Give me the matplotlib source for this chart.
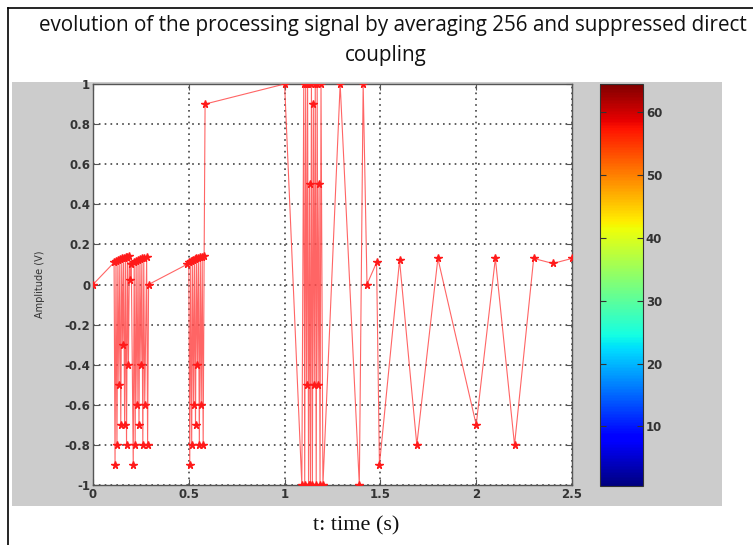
import matplotlib
matplotlib.use("Agg")
import matplotlib.pyplot as plt
from matplotlib.patches import Rectangle
from matplotlib.lines import Line2D
from matplotlib.cm import ScalarMappable
from matplotlib.colors import Normalize
import numpy as np

# signal samples
t = [0.0, 0.11, 0.115, 0.12, 0.125, 0.13, 0.135, 0.14, 0.145, 0.15, 0.155,
     0.16, 0.165, 0.17, 0.175, 0.18, 0.185, 0.19, 0.195, 0.2, 0.21, 0.215,
     0.22, 0.225, 0.23, 0.235, 0.24, 0.245, 0.25, 0.255, 0.26, 0.265, 0.27,
     0.28, 0.285, 0.29,
     0.49, 0.5, 0.505, 0.51, 0.515, 0.52, 0.525, 0.53, 0.535, 0.54, 0.545,
     0.55, 0.555, 0.56, 0.565, 0.57, 0.575, 0.58, 0.585,
     1.0, 1.09, 1.10, 1.105, 1.11, 1.115, 1.12, 1.125, 1.13, 1.135, 1.14,
     1.145, 1.15, 1.155, 1.16, 1.165, 1.17, 1.175, 1.18, 1.185, 1.19, 1.2,
     1.29, 1.39, 1.41, 1.43, 1.48, 1.495, 1.6, 1.69, 1.8, 2.0, 2.1, 2.2,
     2.3, 2.4, 2.5]
amp = [0.0, 0.11, -0.9, 0.115, -0.8, 0.12, -0.5, 0.125, -0.7, 0.13, -0.3,
       0.13, -0.7, 0.135, -0.8, 0.135, -0.4, 0.14, 0.02, 0.1, -0.9, 0.11,
       -0.8, 0.115, -0.6, 0.12, -0.7, 0.125, -0.4, 0.13, -0.8, 0.13, -0.6,
       0.135, -0.8, 0.0,
       0.1, 0.11, -0.9, 0.115, -0.8, 0.12, -0.6, 0.125, -0.7, 0.13, -0.4,
       0.13, -0.8, 0.135, -0.6, 0.135, -0.8, 0.14, 0.9,
       1.0, -1.0, 1.0, -1.0, 1.0, -0.5, 1.0, -1.0, 0.5, -1.0, 1.0,
       -1.0, 0.9, -0.5, 1.0, -1.0, 1.0, -0.5, 0.5, -1.0, 1.0, -1.0,
       1.0, -1.0, 1.0, 0.0, 0.11, -0.9, 0.12, -0.8, 0.13, -0.7, 0.13, -0.8,
       0.13, 0.105, 0.13]

xticks = [0, 0.5, 1, 1.5, 2, 2.5]
xticklabels = ["0", "0.5", "1", "1.5", "2", "2.5"]
yticks = [-1, -0.8, -0.6, -0.4, -0.2, 0, 0.2, 0.4, 0.6, 0.8, 1]
yticklabels = ["-1", "-0.8", "-0.6", "-0.4", "-0.2", "0", "0.2", "0.4", "0.6", "0.8", "1"]
cb_ticks = [10, 20, 30, 40, 50, 60]

W, H = 753, 545
fig = plt.figure(figsize=(W / 100, H / 100), dpi=100)
fig.patch.set_facecolor("white")

def fx(px):
    return px / W

def fy(py):
    return 1 - py / H

# grey matlab figure area
fig.patches.append(Rectangle((fx(12), fy(506)), fx(722 - 12), (506 - 82) / H,
                             transform=fig.transFigure, facecolor="#cccccc",
                             edgecolor="none", zorder=-10))
# black frame lines of the screenshot
fig.lines.append(Line2D([fx(8), fx(8)], [fy(8), 0], transform=fig.transFigure,
                        color="black", lw=1.2, zorder=-5))
fig.lines.append(Line2D([fx(8), 1], [fy(8), fy(8)], transform=fig.transFigure,
                        color="black", lw=1.2, zorder=-5))

ax = fig.add_axes([fx(93), fy(485), fx(572 - 93), (485 - 84) / H])
ax.set_facecolor("white")
ax.plot(t, amp, color="#ff4a4a", lw=0.8, alpha=0.85, zorder=3)
ax.plot(t, amp, ls="none", marker="*", ms=5.5, color="#ff1a1a", zorder=4)
ax.set_xlim(0, 2.5)
ax.set_ylim(-1, 1)
ax.set_xticks(xticks)
ax.set_xticklabels(xticklabels)
ax.set_yticks(yticks)
ax.set_yticklabels(yticklabels)
ax.grid(True, ls=(0, (1, 2.5)), color="#444444", lw=1.2)
ax.tick_params(direction="in", length=4, top=True, right=True, labelsize=8.5,
               labelcolor="#333333", color="#555555", pad=2)
for lab in ax.get_xticklabels() + ax.get_yticklabels():
    lab.set_fontweight("bold")
for sp in ax.spines.values():
    sp.set_color("#555555")
    sp.set_linewidth(1)
ax.set_ylabel("Amplitude (V)", fontsize=7, color="#333333", labelpad=14)

cax = fig.add_axes([fx(600), fy(486), fx(643 - 600), (486 - 84) / H])
sm = ScalarMappable(norm=Normalize(0.5, 64.5), cmap=plt.get_cmap("jet", 256))
cb = fig.colorbar(sm, cax=cax, ticks=cb_ticks)
cb.outline.set_edgecolor("#333333")
cax.tick_params(direction="in", length=4, left=True, right=True, labelsize=8.5,
                labelcolor="#333333", color="#333333", pad=2)
for lab in cax.get_yticklabels():
    lab.set_fontweight("bold")

fig.text(fx(393), fy(25), "evolution of the processing signal by averaging 256 and suppressed direct",
         ha="center", va="center", fontsize=14.9, family="Open Sans", color="#111111")
fig.text(fx(386), fy(56), "coupling", ha="center", va="center", fontsize=14.9,
         family="Open Sans", color="#111111")
fig.text(fx(356), fy(526), "t: time (s)", ha="center", va="center", fontsize=16,
         family="Liberation Serif", color="#111111")

fig.savefig("out.png", dpi=100)
